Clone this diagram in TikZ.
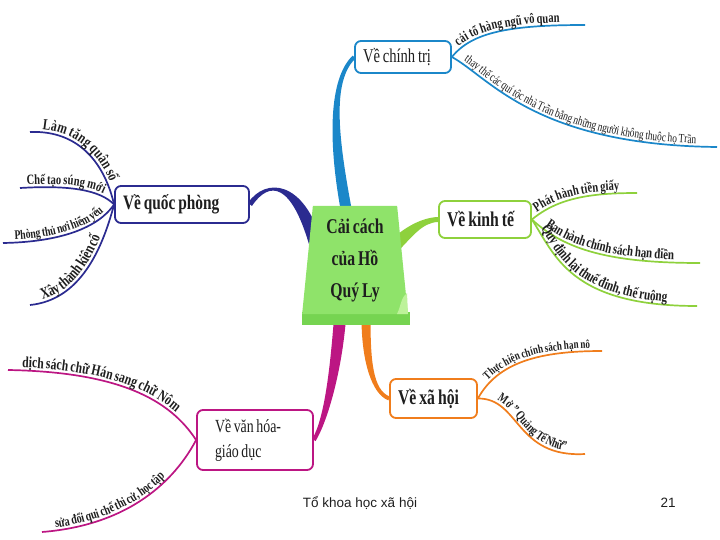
\documentclass[tikz,border=0pt]{standalone}
\usepackage{fontspec}
\setmainfont{Liberation Serif}[FakeStretch=0.75, WordSpace=0.75]
\newfontfamily\footfont{Liberation Sans}
\usetikzlibrary{shapes.geometric,calc,backgrounds,decorations.text}

\definecolor{ink}{HTML}{1E1E1E}
\definecolor{politicsblue}{HTML}{1B87C9}
\definecolor{defencenavy}{HTML}{2B2B90}
\definecolor{economygreen}{HTML}{8ED13C}
\definecolor{societyorange}{HTML}{F07D1C}
\definecolor{culturepink}{HTML}{BC1683}
\definecolor{notegreen}{HTML}{8FE36A}
\definecolor{notebase}{HTML}{76D451}
\definecolor{notecurl}{HTML}{BDF29A}

\newcommand\tw[1]{\fontsize{#1}{#1}\selectfont}

% tapered trunk: colour, start, control 1, control 2, end, half width at start, half width at end
\newcommand\trunkfill[7]{%
  \fill[#1] ($(#2)!#6!90:(#3)$) .. controls ($(#3)!#6!-90:(#2)$) and ($(#4)!#7!90:(#5)$) .. ($(#5)!#7!-90:(#4)$)
    -- ($(#5)!#7!90:(#4)$) .. controls ($(#4)!#7!-90:(#5)$) and ($(#3)!#6!90:(#2)$) .. ($(#2)!#6!-90:(#3)$) -- cycle;}

\tikzset{
  topic/.style={draw=#1, line width=1.8pt, rounded corners=6pt, fill=white, inner xsep=8pt, inner ysep=0pt, align=flush left, text=ink},
  note/.style={trapezium, trapezium left angle=85, trapezium right angle=85, trapezium stretches=true,
    minimum width=106pt, minimum height=108pt, inner sep=0pt, fill=notegreen, align=center, text=ink,
    font=\bfseries\fontsize{21}{32}\selectfont},
  twig/.style={draw=#1, line width=1.7pt},
  twiglabel/.style 2 args={postaction={decorate, decoration={text along path, raise=3pt, text color=ink,
    text align={left indent=#1}, text={#2}}}},
  footer/.style={font=\footfont\fontsize{13.5}{16}\selectfont, text=ink, inner sep=0pt}
}

\begin{document}
\begin{tikzpicture}[x=1pt,y=-1pt]
\useasboundingbox (0,0) rectangle (720,540);

% centre note
\node[note] (core) at (355,260) {Cải cách\\của Hồ\\Quý Ly};
\fill[notecurl] (397,314) .. controls (401,306) and (401,297) .. (407,293) -- (408,314) -- cycle;

% branch boxes
\node[topic=politicsblue, minimum width=96pt, minimum height=32pt, text width=80pt, font=\tw{19.5}] (politics) at (403,57) {Về chính trị};
\node[topic=defencenavy, minimum width=134pt, minimum height=37pt, text width=118pt, font=\bfseries\tw{20.5}] (defence) at (182,204.5) {Về quốc phòng};
\node[topic=economygreen, minimum width=92pt, minimum height=37pt, text width=76pt, font=\bfseries\tw{21}] (economy) at (485,219.5) {Về kinh tế};
\node[topic=societyorange, minimum width=87pt, minimum height=39pt, text width=71pt, font=\bfseries\tw{21}] (society) at (433.5,398.5) {Về xã hội};
\node[topic=culturepink, minimum width=116pt, minimum height=60pt, text width=80pt, inner xsep=18pt, font=\fontsize{18.5}{25}\selectfont] (culture) at (255,440) {Về văn hóa-\\giáo dục};

% free ends of the twigs
\coordinate (reformEnd) at (585,25);
\coordinate (replaceEnd) at (717,147);
\coordinate (troopsEnd) at (30,132);
\coordinate (gunsEnd) at (20,188);
\coordinate (forteEnd) at (3,243);
\coordinate (citadelEnd) at (30,305);
\coordinate (moneyEnd) at (637,193);
\coordinate (landEnd) at (700,263);
\coordinate (taxEnd) at (697,306);
\coordinate (slaveEnd) at (602,351);
\coordinate (clinicEnd) at (585,454);
\coordinate (nomEnd) at (8,370);
\coordinate (examEnd) at (42,532);

\begin{scope}[on background layer]
  % trunks
  \coordinate (rootP) at ($(core.center)+(-8,-46)$);
  \coordinate (rootD) at ($(core.center)+(-39,-15)$);
  \coordinate (rootE) at ($(core.center)+(37,-12)$);
  \coordinate (rootS) at ($(core.center)+(11,58)$);
  \coordinate (rootC) at ($(core.center)+(-15,58)$);
  \trunkfill{politicsblue}{rootP}{333,140}{330,80}{politics.west}{5.5pt}{2pt}
  \trunkfill{defencenavy}{defence.east}{268,178}{298,182}{rootD}{2.5pt}{6.5pt}
  \trunkfill{economygreen}{rootE}{408,232}{422,220}{economy.west}{6.5pt}{2.5pt}
  \trunkfill{societyorange}{rootS}{366,360}{372,392}{society.west}{4.5pt}{2pt}
  \trunkfill{culturepink}{rootC}{336,370}{326,420}{culture.east}{6pt}{2pt}
  \fill[notebase] ($(core.bottom left corner)+(0,-2)$) rectangle ($(core.bottom right corner)+(2,11)$);

  % twigs of politics
  \draw[twig=politicsblue, twiglabel={12pt}{|\bfseries\tw{14}|cải tổ hàng ngũ vô quan}]
    (politics.east) .. controls (472,32) and (510,25) .. (reformEnd);
  \draw[twig=politicsblue, twiglabel={12pt}{|\tw{12.5}|thay thế các quí tộc nhà Trần bằng những người không thuộc họ Trần}]
    (politics.east) .. controls (490,78) and (535,145) .. (replaceEnd);

  % twigs of defence
  \draw[twig=defencenavy, twiglabel={12pt}{|\bfseries\tw{15.5}|Làm tăng quân số}]
    (troopsEnd) .. controls (80,130) and (105,165) .. (defence.west);
  \draw[twig=defencenavy, twiglabel={7pt}{|\bfseries\tw{14}|Chế tạo súng mới}]
    (gunsEnd) .. controls (70,185) and (100,190) .. (defence.west);
  \draw[twig=defencenavy, twiglabel={12pt}{|\bfseries\tw{13}|Phòng thủ nơi hiểm yếu}]
    (forteEnd) .. controls (60,242) and (98,228) .. (defence.west);
  \draw[twig=defencenavy, twiglabel={14pt}{|\bfseries\tw{16}|Xây thành kiên cố}]
    (citadelEnd) .. controls (80,300) and (102,250) .. (defence.west);

  % twigs of economy
  \draw[twig=economygreen, twiglabel={8pt}{|\bfseries\tw{14}|Phát hành tiền giấy}]
    (economy.east) .. controls (558,198) and (590,193) .. (moneyEnd);
  \draw[twig=economygreen, twiglabel={15pt}{|\bfseries\tw{14.5}|Ban hành chính sách hạn điền}]
    (economy.east) .. controls (565,250) and (610,263) .. (landEnd);
  \draw[twig=economygreen, twiglabel={12pt}{|\bfseries\tw{15}|Quy định lại thuế đinh, thế ruộng}]
    (economy.east) .. controls (555,255) and (570,306) .. (taxEnd);

  % twigs of society
  \draw[twig=societyorange, twiglabel={20pt}{|\bfseries\tw{12}|Thực hiện chính sách hạn nô}]
    (society.east) .. controls (498,362) and (540,351) .. (slaveEnd);
  \draw[twig=societyorange, twiglabel={18pt}{|\bfseries\tw{13}|Mở " Quảng Tế Nhữ"}]
    (society.east) .. controls (520,398) and (515,458) .. (clinicEnd);

  % twigs of culture
  \draw[twig=culturepink, twiglabel={14pt}{|\bfseries\tw{15.5}|dịch sách chữ Hán sang chữ Nôm}]
    (nomEnd) .. controls (120,372) and (170,400) .. (culture.west);
  \draw[twig=culturepink, twiglabel={14pt}{|\bfseries\tw{13.5}|sửa đổi qui chế thi cử, học tập}]
    (examEnd) .. controls (130,525) and (175,480) .. (culture.west);
\end{scope}

% footer
\node[footer] (group) at (360,503) {Tổ khoa học xã hội};
\node[footer] (page) at (668,503) {21};
\end{tikzpicture}
\end{document}
